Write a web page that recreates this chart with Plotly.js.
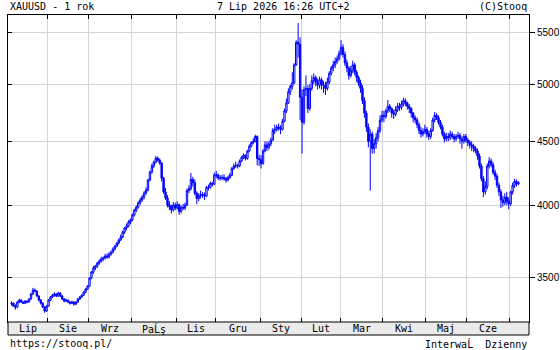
<!DOCTYPE html>
<html><head><meta charset="utf-8">
<script src="https://cdn.plot.ly/plotly-3.0.1.min.js"></script>
<style>html,body{margin:0;padding:0;background:#fff}#chart{width:560px;height:350px}</style>
</head><body><div id="chart"></div>
<script>
const monthLabels = ["Lip","Sie","Wrz","PaĹş","Lis","Gru","Sty","Lut","Mar","Kwi","Maj","Cze"];
const monthDays = [19,21,22,23,20,23,21,20,22,22,21,22,5];
const yTicks = [3500,4000,4500,5000,5500];

const open = [
3336,3340,3322,3316,3347,3359,3347,3340,3353,3347,3365,3397,3422,3416,3384,3359,3340,3316,3292,
3322,3359,3378,3390,3397,3384,3403,3384,3365,3353,3359,3347,3340,3347,3334,3347,3365,3378,3390,3409,3428,
3447,3498,3537,3563,3576,3596,3609,3623,3629,3643,3636,3656,3669,3690,3710,3731,3752,3773,3808,3836,3850,3879,
3893,3929,3965,3987,4017,4039,4061,4091,4114,4190,4252,4300,4331,4363,4347,4323,4205,4099,4054,4002,3987,3965,4002,
3980,4005,3955,3985,3980,4002,4110,4125,4195,4170,4090,4050,4070,4080,4078,4068,4135,4132,4165,4158,
4230,4230,4205,4205,4210,4200,4190,4210,4228,4280,4300,4305,4300,4340,4370,4387,4360,4420,4460,4490,4500,4540,4360,
4350,4320,4420,4470,4450,4480,4510,4590,4600,4620,4610,4600,4670,4760,4830,4930,4980,5010,5180,5400,5380,
4880,4660,4950,4960,4780,4960,5030,5060,5020,4990,5040,4990,4990,4960,5020,5100,5150,5180,5210,5240,
5290,5350,5280,5200,5150,5080,5130,5180,5110,5060,5010,4960,4850,4740,4620,4500,4560,4440,4480,4530,4590,4680,
4720,4710,4760,4800,4780,4740,4730,4770,4800,4790,4820,4850,4830,4800,4780,4740,4700,4680,4640,4590,4560,4580,
4600,4560,4540,4590,4680,4720,4700,4660,4620,4560,4520,4540,4530,4560,4540,4520,4540,4550,4520,4500,4540,
4510,4490,4470,4460,4440,4420,4380,4300,4200,4100,4140,4300,4340,4310,4250,4220,4150,4100,4040,4020,4060,4030,
4010,4100,4150,4180,4160];

const high = [
3352,3345,3333,3355,3368,3365,3352,3360,3358,3372,3405,3436,3432,3420,3390,3366,3346,3322,3330,
3365,3385,3398,3408,3402,3410,3408,3390,3372,3368,3362,3352,3356,3352,3352,3372,3384,3395,3415,3435,3452,
3505,3545,3578,3585,3605,3620,3638,3640,3658,3660,3668,3680,3702,3718,3740,3762,3790,3818,3845,3868,3890,3905,
3940,3975,4000,4030,4055,4075,4105,4135,4200,4265,4320,4345,4381,4375,4360,4330,4215,4130,4075,4030,4005,4025,4020,
4030,4012,3998,4010,4020,4125,4150,4245,4215,4195,4105,4090,4110,4098,4095,4145,4155,4178,4175,4250,
4262,4240,4228,4232,4235,4215,4225,4245,4292,4320,4335,4320,4352,4380,4400,4392,4430,4475,4500,4525,4555,4550,4390,
4385,4435,4500,4500,4500,4530,4610,4640,4640,4650,4635,4690,4780,4870,4960,4995,5110,5195,5420,5595,5450,
4950,4980,5080,4990,5000,5080,5100,5080,5050,5070,5060,5030,5020,5060,5120,5170,5220,5250,5270,5320,
5420,5380,5310,5230,5170,5170,5220,5200,5130,5080,5040,4990,4880,4760,4650,4600,4580,4520,4570,4620,4720,4760,
4760,4780,4855,4820,4790,4770,4800,4830,4830,4850,4875,4870,4840,4820,4790,4750,4720,4700,4660,4620,4610,4640,
4620,4590,4610,4700,4750,4740,4720,4680,4640,4580,4570,4570,4590,4580,4560,4560,4580,4570,4540,4560,4560,
4530,4510,4500,4480,4460,4440,4400,4320,4220,4180,4320,4370,4360,4330,4270,4240,4170,4120,4070,4090,4100,4060,
4110,4170,4200,4195,4180];

const low = [
3325,3318,3300,3312,3340,3342,3335,3335,3340,3345,3362,3390,3408,3380,3352,3332,3310,3282,3288,
3318,3352,3372,3380,3378,3380,3378,3360,3345,3348,3340,3332,3336,3325,3330,3342,3360,3372,3385,3402,3422,
3440,3490,3525,3550,3565,3585,3600,3608,3620,3625,3628,3645,3660,3680,3702,3722,3745,3765,3795,3820,3840,3862,
3885,3918,3950,3975,4005,4025,4045,4078,4105,4180,4240,4285,4320,4335,4310,4180,4085,4040,3985,3965,3940,3955,3965,
3970,3930,3940,3965,3965,3995,4090,4110,4140,4075,4010,4030,4050,4055,4040,4060,4110,4125,4140,4150,
4205,4190,4185,4190,4185,4170,4180,4200,4220,4270,4285,4280,4290,4330,4355,4345,4350,4410,4450,4475,4490,4305,4300,
4280,4310,4410,4420,4430,4460,4500,4560,4580,4590,4560,4590,4660,4740,4820,4900,4950,5000,5170,5250,4680,
4400,4640,4890,4740,4760,4940,5000,4980,4950,4960,4950,4920,4900,4940,5000,5080,5120,5150,5190,5220,
5270,5250,5170,5110,5040,5060,5100,5080,5020,4980,4920,4820,4700,4580,4450,4110,4400,4400,4440,4500,4570,4660,
4660,4690,4740,4750,4700,4690,4710,4750,4760,4770,4800,4800,4770,4740,4700,4660,4650,4610,4560,4530,4540,4560,
4530,4510,4520,4580,4660,4680,4640,4600,4540,4490,4500,4500,4510,4520,4490,4500,4520,4480,4440,4480,4490,
4460,4440,4420,4410,4400,4350,4280,4180,4060,4080,4120,4280,4290,4230,4190,4130,4070,3980,3990,4000,4000,3970,
3995,4080,4130,4140,4150];

const close = [
3340,3322,3316,3347,3359,3347,3340,3353,3347,3365,3397,3422,3416,3384,3359,3340,3316,3292,3322,
3359,3378,3390,3397,3384,3403,3384,3365,3353,3359,3347,3340,3347,3334,3347,3365,3378,3390,3409,3428,3447,
3498,3537,3563,3576,3596,3609,3623,3629,3643,3636,3656,3669,3690,3710,3731,3752,3773,3808,3836,3850,3879,3893,
3929,3965,3987,4017,4039,4061,4091,4114,4190,4252,4300,4331,4363,4347,4323,4205,4099,4054,4002,3987,3965,4002,3980,
4005,3955,3985,3980,4002,4110,4125,4195,4170,4090,4050,4070,4080,4078,4068,4135,4132,4165,4158,4230,
4230,4205,4205,4210,4200,4190,4210,4228,4280,4300,4305,4300,4340,4370,4387,4360,4420,4460,4490,4500,4540,4360,4350,
4320,4420,4470,4450,4480,4510,4590,4600,4620,4610,4600,4670,4760,4830,4930,4980,5010,5180,5400,5380,4880,
4660,4950,4960,4780,4960,5030,5060,5020,4990,5040,4990,4990,4960,5020,5100,5150,5180,5210,5240,5290,
5350,5280,5200,5150,5080,5130,5180,5110,5060,5010,4960,4850,4740,4620,4500,4560,4440,4480,4530,4590,4680,4720,
4710,4760,4800,4780,4740,4730,4770,4800,4790,4820,4850,4830,4800,4780,4740,4700,4680,4640,4590,4560,4580,4600,
4560,4540,4590,4680,4720,4700,4660,4620,4560,4520,4540,4530,4560,4540,4520,4540,4550,4520,4500,4540,4510,
4490,4470,4460,4440,4420,4380,4300,4200,4100,4140,4300,4340,4310,4250,4220,4150,4100,4040,4020,4060,4030,4010,
4100,4150,4180,4160,4170];

const xs = close.map((_, i) => i);

// month boundaries and label centres (trading-day index)
const bounds = [];
let acc = 0;
for (let m = 0; m < monthDays.length - 1; m++) { acc += monthDays[m]; bounds.push(acc - 0.5); }
const xMin = -1.8, xMax = 265.4;
const starts = [xMin].concat(bounds);
const mids = monthLabels.map((_, i) => (starts[i] + starts[i+1]) / 2);

const FONT = "DejaVu Sans Mono";
const yRange = [Math.log10(3226.5), Math.log10(5678)];
const plotH = 307;
const tf = {family: FONT, size: 10, color: '#000'};

const annotations = monthLabels.map((t, i) => ({
  text: t, x: mids[i], xref: 'x', y: -6.5/plotH, yref: 'paper',
  showarrow: false, xanchor: 'center', yanchor: 'middle', font: tf
}));
annotations.push(
  {text: "XAUUSD - 1 rok", x: 0, xref: 'paper', y: 1 + 8/plotH, yref: 'paper', showarrow: false, xanchor: 'left', yanchor: 'middle', font: tf},
  {text: "7 Lip 2026 16:26 UTC+2", x: (282.5-8)/521, xref: 'paper', y: 1 + 8/plotH, yref: 'paper', showarrow: false, xanchor: 'center', yanchor: 'middle', font: tf},
  {text: "(C)Stooq", x: 1, xref: 'paper', y: 1 + 8/plotH, yref: 'paper', showarrow: false, xanchor: 'right', yanchor: 'middle', font: tf},
  {text: "https://stooq.pl/", x: 0, xref: 'paper', y: -21.5/plotH, yref: 'paper', showarrow: false, xanchor: 'left', yanchor: 'middle', font: tf},
  {text: "InterwaĹ\u00a0 Dzienny", x: 1, xref: 'paper', y: -21.5/plotH, yref: 'paper', showarrow: false, xanchor: 'right', yanchor: 'middle', font: tf}
);

const traces = [
  {type: 'candlestick', x: xs, open: open, high: high, low: low, close: close,
   increasing: {line: {color: '#0000ff', width: 1}, fillcolor: '#ffffff'},
   decreasing: {line: {color: '#0000ff', width: 1}, fillcolor: '#0000ff'},
   whiskerwidth: 0, hoverinfo: 'skip', showlegend: false},
  {type: 'scatter', mode: 'markers', x: [null], y: [null], yaxis: 'y2', hoverinfo: 'skip', showlegend: false}
];

const layout = {
  width: 560, height: 350,
  margin: {l: 8, r: 31, t: 15, b: 28, pad: 0},
  paper_bgcolor: '#ffffff', plot_bgcolor: '#ffffff',
  showlegend: false, boxgap: 0,
  xaxis: {range: [xMin, xMax], autorange: false, tickvals: bounds, showticklabels: false,
          ticks: 'inside', ticklen: 4, tickcolor: '#000', mirror: 'ticks',
          showline: true, linecolor: '#000', linewidth: 1,
          showgrid: true, gridcolor: '#d4d4d4', gridwidth: 1, zeroline: false,
          rangeslider: {visible: false}, fixedrange: true},
  yaxis: {type: 'log', range: yRange, autorange: false, side: 'right',
          tickvals: yTicks, ticktext: yTicks.map(String),
          ticks: 'outside', ticklen: 5, tickcolor: '#000',
          showline: true, linecolor: '#000', linewidth: 1,
          showgrid: true, gridcolor: '#d4d4d4', gridwidth: 1, zeroline: false,
          tickfont: {family: "Liberation Sans", size: 10, color: '#000'}, fixedrange: true},
  yaxis2: {type: 'log', range: yRange, autorange: false, overlaying: 'y', side: 'left',
           tickvals: yTicks, showticklabels: false, ticks: 'inside', ticklen: 4, tickcolor: '#000',
           showline: true, linecolor: '#000', linewidth: 1, showgrid: false, zeroline: false, fixedrange: true},
  shapes: [
    {type: 'rect', xref: 'paper', yref: 'paper', x0: 0, x1: 1, y0: -13/plotH, y1: 0,
     fillcolor: '#ebebeb', line: {color: '#000', width: 1}, layer: 'above'}
  ],
  annotations: annotations
};

Plotly.newPlot('chart', traces, layout, {staticPlot: true, displayModeBar: false});
</script>
</body></html>
